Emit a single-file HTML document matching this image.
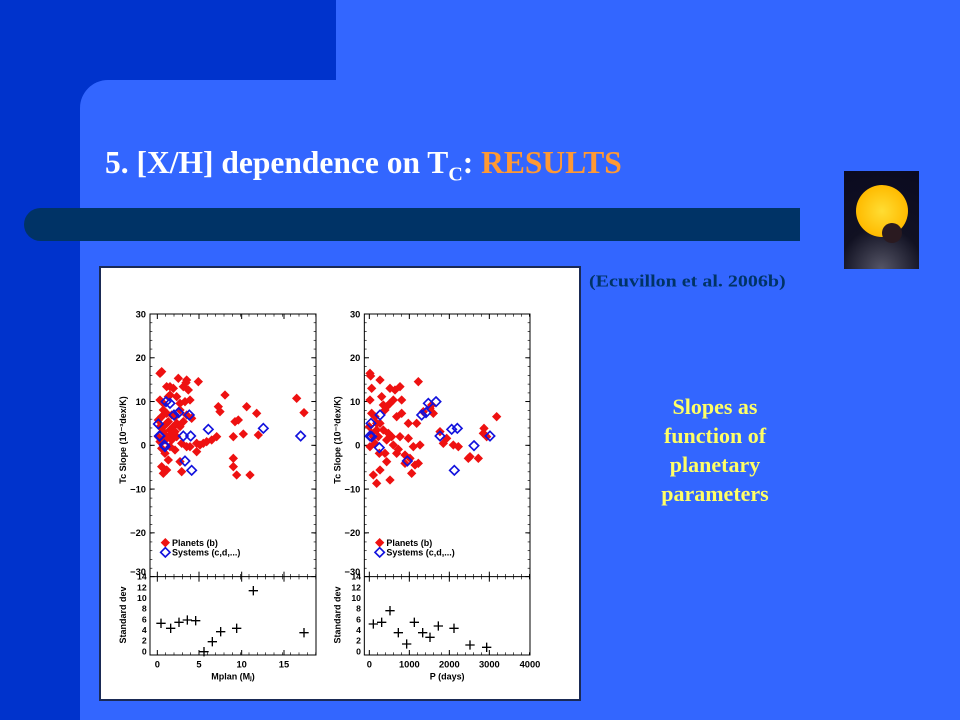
<!DOCTYPE html>
<html><head><meta charset="utf-8"><style>
body{margin:0;width:960px;height:720px;overflow:hidden;background:#3366ff;position:relative;font-family:"Liberation Serif",serif}
.a{position:absolute}
</style></head><body>
<div class="a" style="left:0;top:0;width:336px;height:80px;background:#0033cc"></div>
<div class="a" style="left:0;top:0;width:80px;height:720px;background:#0033cc"></div>
<div class="a" style="left:80px;top:80px;width:40px;height:40px;background:#0033cc"></div>
<div class="a" style="left:80px;top:80px;width:60px;height:60px;background:#3366ff;border-top-left-radius:28px"></div>
<div class="a" style="left:24px;top:208px;width:776px;height:33px;background:#003366;border-radius:17px 0 0 17px"></div>
<div class="a" style="left:105px;top:145px;font-size:31.5px;font-weight:bold;color:#fff;white-space:nowrap">5. [X/H] dependence on T<sub style="font-size:20px">C</sub>: <span style="color:#ff9933">RESULTS</span></div>
<div class="a" style="left:844px;top:171px;width:75px;height:98px;background:radial-gradient(circle at 50% 100%,#556 0,#112 40%,#0a0a20 100%)">
<div class="a" style="left:12px;top:14px;width:52px;height:52px;border-radius:50%;background:radial-gradient(circle,#ffdd33 0,#ffbb00 70%,#e89000 100%)"></div>
<div class="a" style="left:38px;top:52px;width:20px;height:20px;border-radius:50%;background:#2a1a20"></div></div>
<div class="a" style="left:589px;top:272px;font-size:20px;font-weight:bold;color:#003366;white-space:nowrap;transform:scale(1,0.85);transform-origin:0 0">(Ecuvillon et al. 2006b)</div>
<div class="a" style="left:635px;top:392px;width:160px;text-align:center;font-size:22px;font-weight:bold;color:#ffff66;line-height:29px">Slopes as<br>function of<br>planetary<br>parameters</div>
<div class="a" style="left:99px;top:266px;width:478px;height:431px;background:#fff;border:2px solid #1a2a55"></div>
<svg class="a" style="left:0;top:0" width="960" height="720">
<g id="L" transform="translate(100,290) scale(0.33333)" font-family="Liberation Sans, sans-serif" font-size="28" font-weight="bold"></g>
<g id="R" transform="translate(330,290) scale(0.33333)" font-family="Liberation Sans, sans-serif" font-size="28" font-weight="bold"></g>
</svg>
<script>
var NS="http://www.w3.org/2000/svg";
function el(g,t,a,txt){var e=document.createElementNS(NS,t);for(var k in a)e.setAttribute(k,a[k]);if(txt!=null)e.textContent=txt;g.appendChild(e);return e;}
function dia(g,x,y,fill){el(g,"path",{d:"M"+x+","+(y-14)+"l14,14l-14,14l-14,-14z",fill:fill?"#ee1111":"none",stroke:fill?"#ee1111":"#1111dd","stroke-width":fill?0:5});}
function cross(g,x,y){el(g,"path",{d:"M"+(x-14)+","+y+"h28M"+x+","+(y-14)+"v28",stroke:"#000","stroke-width":4});}
function panel(g,x0,x1,xt,xl,title){
el(g,"rect",{x:x0,y:72,width:x1-x0,height:1023,fill:"none",stroke:"#000","stroke-width":3});
el(g,"line",{x1:x0,y1:860,x2:x1,y2:860,stroke:"#000","stroke-width":3});
var yl=[30,20,10,0,-10,-20,-30];
for(var i=0;i<=6;i++){var y=72+i*131.3;if(i<6)el(g,"text",{x:x0-12,y:y+10,"text-anchor":"end"},String(yl[i]).replace("-","\u2212"));
el(g,"line",{x1:x0,y1:y,x2:x0+14,y2:y,stroke:"#000","stroke-width":3});el(g,"line",{x1:x1,y1:y,x2:x1-14,y2:y,stroke:"#000","stroke-width":3});}
el(g,"text",{x:x0-12,y:855,"text-anchor":"end"},"\u221230");
for(var j=0;j<30;j++){var y=72+j*26.3;el(g,"line",{x1:x0,y1:y,x2:x0+7,y2:y,stroke:"#000","stroke-width":2});el(g,"line",{x1:x1,y1:y,x2:x1-7,y2:y,stroke:"#000","stroke-width":2});}
for(var i=0;i<=7;i++){var y=860+i*32;el(g,"text",{x:x0-10,y:y+9,"text-anchor":"end","font-size":26},String(14-2*i));}
for(var i=0;i<xt.length;i++){el(g,"text",{x:xt[i],y:1133,"text-anchor":"middle"},xl[i]);
el(g,"line",{x1:xt[i],y1:1095,x2:xt[i],y2:1080,stroke:"#000","stroke-width":3});el(g,"line",{x1:xt[i],y1:860,x2:xt[i],y2:875,stroke:"#000","stroke-width":3});el(g,"line",{x1:xt[i],y1:860,x2:xt[i],y2:845,stroke:"#000","stroke-width":3});el(g,"line",{x1:xt[i],y1:72,x2:xt[i],y2:87,stroke:"#000","stroke-width":3});}
var st=(xt[1]-xt[0])/5;for(var x=xt[0]+st;x<x1;x+=st){[1095,860].forEach(function(yy){el(g,"line",{x1:x,y1:yy,x2:x,y2:yy-8,stroke:"#000","stroke-width":2});});el(g,"line",{x1:x,y1:860,x2:x,y2:868,stroke:"#000","stroke-width":2});el(g,"line",{x1:x,y1:72,x2:x,y2:80,stroke:"#000","stroke-width":2});}
el(g,"text",{x:0,y:0,transform:"translate("+(x0-72)+",450) rotate(-90)","text-anchor":"middle","font-size":27},"Tc Slope (10\u207B\u00B3dex/K)");
el(g,"text",{x:0,y:0,transform:"translate("+(x0-72)+",975) rotate(-90)","text-anchor":"middle","font-size":27},"Standard dev");
el(g,"text",{x:(x0+x1)/2,y:1168,"text-anchor":"middle","font-size":27},title);
dia(g,x0+46,758,true);dia(g,x0+46,787,false);
el(g,"text",{x:x0+66,y:768,"font-size":27},"Planets (b)");el(g,"text",{x:x0+66,y:797,"font-size":27},"Systems (c,d,...)");
}
var L=document.getElementById("L"),R=document.getElementById("R");
panel(L,150,648,[172,297,425,552],["0","5","10","15"],"Mplan (M\u2c7c)");
panel(R,103,600,[118,238,358,478,600],["0","1000","2000","3000","4000"],"P (days)");
var lr=[[180,250],[185,245],[200,290],[210,290],[220,295],[235,265],[250,290],[260,270],[258,278],[295,275],[210,315],[180,330],[190,340],[205,320],[230,320],[240,340],[255,335],[265,300],[270,330],[375,315],[355,350],[360,365],[440,350],[470,370],[190,360],[175,390],[185,380],[200,370],[215,375],[225,380],[240,360],[260,375],[275,385],[250,395],[200,400],[190,410],[210,420],[220,410],[230,400],[240,410],[200,440],[215,450],[230,440],[245,460],[260,470],[290,460],[300,465],[310,460],[320,455],[335,450],[350,440],[290,485],[270,470],[185,475],[195,490],[205,510],[185,530],[190,550],[200,540],[240,515],[245,545],[225,480],[210,470],[400,440],[405,395],[415,390],[400,530],[450,555],[410,555],[400,505],[430,432],[590,325],[612,368],[475,435],[195,450],[215,430],[175,440],[190,425],[180,410],[205,395],[225,425],[180,455]];
lr.forEach(function(p){dia(L,p[0],p[1],true);});
[[175,402],[178,438],[193,465],[198,335],[210,340],[222,375],[236,368],[250,438],[268,375],[272,438],[325,418],[255,513],[275,541],[490,415],[602,438],[180,438],[195,470]].forEach(function(p){dia(L,p[0],p[1],false);});
[[183,1000],[212,1015],[237,997],[262,990],[287,992],[312,1085],[337,1055],[362,1025],[410,1015],[460,902],[612,1028]].forEach(function(p){cross(L,p[0],p[1]);});
var rr=[[120,250],[122,258],[125,295],[150,270],[180,295],[120,330],[125,370],[135,380],[118,410],[140,420],[145,440],[120,470],[155,320],[160,345],[170,350],[180,340],[190,330],[165,360],[150,400],[185,440],[190,465],[165,490],[130,555],[150,540],[140,580],[180,570],[210,440],[200,380],[215,330],[210,290],[235,445],[250,470],[235,400],[260,400],[265,275],[280,365],[265,520],[225,520],[245,550],[200,490],[170,515],[175,430],[205,478],[195,300],[300,355],[310,370],[330,425],[340,460],[350,445],[370,465],[385,470],[415,505],[420,500],[460,430],[462,415],[470,440],[500,380],[445,505],[225,495],[270,465],[305,345],[148,490],[130,440],[140,400],[125,430],[135,460],[160,420],[170,450],[215,370],[240,505],[255,525]];
rr.forEach(function(p){dia(R,p[0],p[1],true);});
[[123,400],[120,438],[125,440],[150,375],[148,473],[232,513],[275,375],[288,368],[295,340],[318,335],[330,438],[365,418],[382,415],[432,467],[480,438],[373,541]].forEach(function(p){dia(R,p[0],p[1],false);});
[[130,1002],[155,997],[180,962],[205,1028],[230,1062],[253,997],[278,1028],[300,1042],[325,1008],[372,1015],[420,1065],[470,1072]].forEach(function(p){cross(R,p[0],p[1]);});
</script>
</body></html>
